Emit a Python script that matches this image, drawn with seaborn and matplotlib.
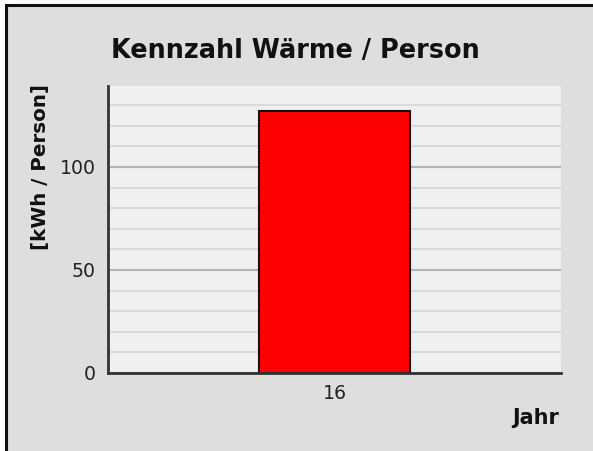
import matplotlib
matplotlib.use("Agg")
import matplotlib.pyplot as plt
import seaborn as sns
import pandas as pd
from matplotlib.patches import Rectangle
from matplotlib.lines import Line2D

# data
jahre = ["16"]
waerme_pro_person = [127.2]

title = "Kennzahl Wärme / Person"
ylabel = "[kWh / Person]"
xlabel = "Jahr"

sns.set_theme(style="white")
plt.rcParams['font.family'] = ['DejaVu Sans']

W, H = 593, 451
fig = plt.figure(figsize=(W / 100, H / 100), dpi=100)
fig.patch.set_facecolor("white")

# grey panel with left/top border
fig.patches.append(Rectangle((6 / W, 0), 1, 1 - 5 / H, transform=fig.transFigure,
                             facecolor="#dedede", edgecolor="none", zorder=-10))
fig.lines.append(Line2D([6 / W, 6 / W], [0, 1 - 5 / H], transform=fig.transFigure,
                        color="#111111", lw=2.2, zorder=-5))
fig.lines.append(Line2D([6 / W, 1], [1 - 5 / H, 1 - 5 / H], transform=fig.transFigure,
                        color="#111111", lw=2.2, zorder=-5))

ax = fig.add_axes([108 / W, 1 - 373 / H, (561 - 108) / W, (373 - 86) / H])
ax.set_facecolor("#f0f0f0")

df = pd.DataFrame({"Jahr": jahre, "Wert": waerme_pro_person})
sns.barplot(data=df, x="Jahr", y="Wert", ax=ax, color="#ff0000", saturation=1,
            edgecolor="#111111", linewidth=1.5, width=1.0, zorder=3)

ax.set_xlim(-1.5, 1.5)
ax.set_ylim(0, 139.3)
ax.set_yticks([0, 50, 100])
ax.set_yticks(range(10, 140, 10), minor=True)
ax.grid(axis="y", which="minor", color="#d6d6d6", lw=1.2, zorder=0)
ax.grid(axis="y", which="major", color="#b4b4b4", lw=1.5, zorder=0)
ax.set_axisbelow(True)

for s in ["top", "right"]:
    ax.spines[s].set_visible(False)
for s in ["left", "bottom"]:
    ax.spines[s].set_color("#333333")
    ax.spines[s].set_linewidth(2)
    ax.spines[s].set_zorder(5)

ax.tick_params(axis="both", which="both", length=0, labelsize=13.6,
               labelcolor="#222222")
ax.tick_params(axis="y", pad=9)
ax.tick_params(axis="x", pad=8)
ax.set_xlabel("")
ax.set_ylabel("")

fig.text(295 / W, 1 - 51 / H, title, ha="center", va="center",
         fontsize=18.4, fontweight="bold", color="#111111")
fig.text(41 / W, 1 - 167 / H, ylabel, ha="center", va="center", rotation=90,
         fontsize=14.3, fontweight="bold", color="#111111")
fig.text(559 / W, 1 - 418 / H, xlabel, ha="right", va="center",
         fontsize=15, fontweight="bold", color="#111111")

fig.savefig("out.png", dpi=100)
